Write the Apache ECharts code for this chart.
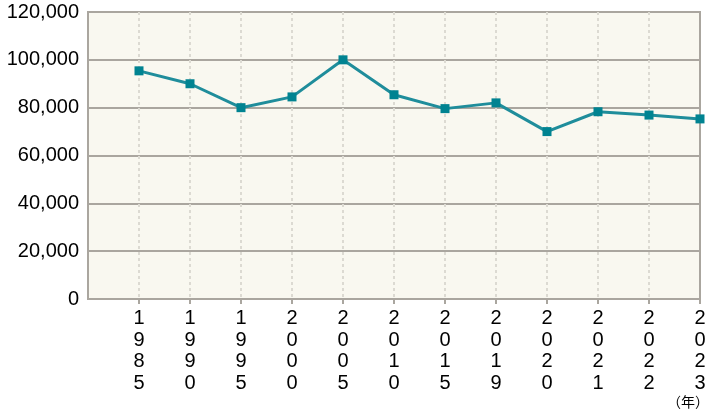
<!DOCTYPE html>
<html>
<head>
<meta charset="utf-8">
<script src="https://cdn.jsdelivr.net/npm/echarts@6/dist/echarts.min.js"></script>
<style>html,body{margin:0;padding:0;background:#fff;}#c{width:712px;height:417px;}</style>
</head>
<body>
<div id="c"></div>
<script>
var categories = ['', '1985', '1990', '1995', '2000', '2005', '2010', '2015', '2019', '2020', '2021', '2022', '2023'];
var values = [null, 95400, 90000, 80000, 84500, 100000, 85400, 79600, 82000, 70000, 78300, 76900, 75300];
var yTicks = [0, 20000, 40000, 60000, 80000, 100000, 120000];
var unitLabel = '（年）';

var chart = echarts.init(document.getElementById('c'));
var lastIdx = categories.length - 1;
chart.setOption({
  animation: false,
  grid: {left: 88, right: 12, top: 12, bottom: 118, show: true,
         backgroundColor: '#f9f8f0', borderColor: '#aaa69f', borderWidth: 2},
  xAxis: {
    type: 'category', data: categories, boundaryGap: false,
    axisLine: {lineStyle: {color: '#aaa69f', width: 2}},
    axisTick: {length: 5, lineStyle: {color: '#aaa69f', width: 2},
               interval: function (i) { return i !== 0; }},
    axisLabel: {
      interval: 0, margin: 9, color: '#000',
      fontFamily: 'Liberation Sans', fontSize: 20, lineHeight: 21.5,
      formatter: function (v) { return v.split('').join('\n'); }
    },
    splitLine: {show: true, interval: function (i) { return i !== 0 && i !== lastIdx; },
                lineStyle: {color: '#dcdad2', width: 2, type: [3, 3]}}
  },
  yAxis: {
    type: 'value', min: yTicks[0], max: yTicks[yTicks.length - 1], interval: yTicks[1] - yTicks[0],
    axisLine: {show: true, lineStyle: {color: '#aaa69f', width: 2}},
    axisTick: {show: false},
    axisLabel: {margin: 9, color: '#000', fontFamily: 'Liberation Sans', fontSize: 20,
                formatter: function (v) { return v.toLocaleString('en-US'); }},
    splitLine: {lineStyle: {color: '#aaa69f', width: 2}}
  },
  graphic: [{
    type: 'text', right: 3, top: 395,
    style: {text: unitLabel, fontFamily: 'Noto Sans CJK JP', fontSize: 14, fill: '#000'}
  }],
  series: [{
    type: 'line', data: values, connectNulls: false,
    symbol: 'rect', symbolSize: 9,
    lineStyle: {color: '#1f8d9b', width: 3},
    itemStyle: {color: '#008391'}
  }]
});
</script>
</body>
</html>
